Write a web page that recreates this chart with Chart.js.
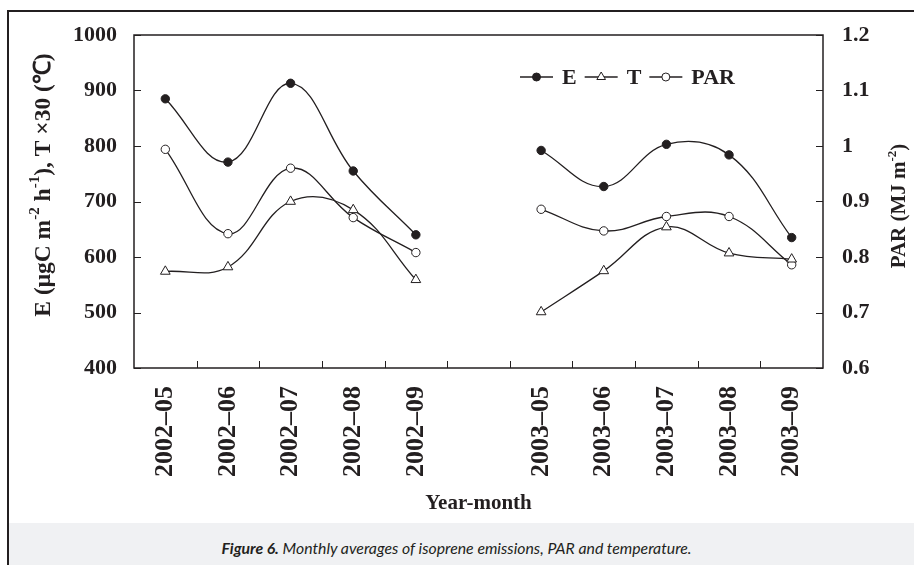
<!DOCTYPE html>
<html>
<head>
<meta charset="utf-8">
<title>Monthly averages of isoprene emissions</title>
<script src="https://cdn.jsdelivr.net/npm/chart.js@4.4.1/dist/chart.umd.min.js"></script>
<style>
  html, body { margin: 0; padding: 0; background: #fff; }
  #wrap { position: relative; width: 914px; height: 565px; overflow: hidden; }
  #chart { position: absolute; left: 0; top: 0; }
  #caption {
    position: absolute; left: 9px; top: 523px; width: 905px; height: 38px; padding-top: 4px;
    background: #f0f1f3; color: #231f20; text-align: center; line-height: 42px;
    font-family: Lato, "Open Sans", sans-serif; font-style: italic; font-size: 15.8px;
  }
  #caption span { position: relative; left: -5px; }
  #frame {
    position: absolute; left: 7px; top: 10px; width: 920px; height: 570px;
    border-left: 2px solid #231f20; border-top: 2px solid #231f20; pointer-events: none;
  }
</style>
</head>
<body>
<div id="wrap">
  <canvas id="chart" width="914" height="523"></canvas>
  <div id="caption"><span><b>Figure 6.</b> Monthly averages of isoprene emissions, PAR and temperature.</span></div>
  <div id="frame"></div>
</div>
<script>
// months on the x axis, blank slot separates the two seasons
const months = ['2002\u201305', '2002\u201306', '2002\u201307', '2002\u201308', '2002\u201309', '',
                '2003\u201305', '2003\u201306', '2003\u201307', '2003\u201308', '2003\u201309'];

// isoprene emission E (ugC m-2 h-1)
const emission = [885, 771, 913, 755, 640, null, 792, 727, 803, 784, 635];
// temperature scaled by 30
const tempX30 = [574, 582, 700, 685, 559, null, 501, 575, 654, 607, 596];
// PAR (MJ m-2), right axis
const par = [0.994, 0.842, 0.960, 0.871, 0.808, null, 0.886, 0.847, 0.873, 0.873, 0.786];

const leftTicks = [400, 500, 600, 700, 800, 900, 1000];
const rightTicks = [0.6, 0.7, 0.8, 0.9, 1.0, 1.1, 1.2];
const rightLabels = ['0.6', '0.7', '0.8', '0.9', '1', '1.1', '1.2'];

const ink = '#231f20';
const serif = '"Liberation Serif", "Times New Roman", serif';

// plain text with superscript pieces, centred on the origin
function drawRich(ctx, parts, size) {
  const base = `bold ${size}px ${serif}`;
  const small = `bold ${Math.round(size * 0.62)}px ${serif}`;
  let total = 0;
  parts.forEach(p => { ctx.font = p.sup ? small : base; total += ctx.measureText(p.text).width; });
  let x = -total / 2;
  parts.forEach(p => {
    ctx.font = p.sup ? small : base;
    ctx.fillText(p.text, x, p.sup ? -size * 0.36 : 0);
    x += ctx.measureText(p.text).width;
  });
}

const decorations = {
  id: 'decorations',
  beforeDatasetsDraw(chart) {
    const { ctx, chartArea: a, scales } = chart;
    ctx.save();
    ctx.strokeStyle = ink;
    ctx.lineWidth = 1.5;
    ctx.strokeRect(a.left, a.top, a.right - a.left, a.bottom - a.top);

    // inward tick marks
    ctx.lineWidth = 1;
    ctx.beginPath();
    scales.y.ticks.forEach(t => {
      const y = Math.round(scales.y.getPixelForValue(t.value)) + 0.5;
      ctx.moveTo(a.left, y); ctx.lineTo(a.left + 7, y);
    });
    scales.y1.ticks.forEach(t => {
      const y = Math.round(scales.y1.getPixelForValue(t.value)) + 0.5;
      ctx.moveTo(a.right, y); ctx.lineTo(a.right - 7, y);
    });
    const x = scales.x;
    const half = (x.getPixelForValue(1) - x.getPixelForValue(0)) / 2;
    for (let i = 1; i < months.length; i++) {
      const px = Math.round(x.getPixelForValue(i) - half) + 0.5;
      ctx.moveTo(px, a.bottom); ctx.lineTo(px, a.bottom - 7);
    }
    ctx.stroke();
    ctx.restore();
  },
  afterDraw(chart) {
    const { ctx } = chart;
    ctx.save();
    ctx.fillStyle = ink;
    ctx.textBaseline = 'middle';
    ctx.textAlign = 'left';

    // left axis title
    ctx.save();
    ctx.translate(44, 185);
    ctx.rotate(-Math.PI / 2);
    drawRich(ctx, [
      { text: 'E (\u03bcgC m' }, { text: '-2', sup: true }, { text: ' h' }, { text: '-1', sup: true },
      { text: '), T \u00d730 (\u2103)' }
    ], 23.5);
    ctx.restore();

    // right axis title
    ctx.save();
    ctx.translate(900, 206);
    ctx.rotate(-Math.PI / 2);
    drawRich(ctx, [{ text: 'PAR (MJ m' }, { text: '-2', sup: true }, { text: ')' }], 21);
    ctx.restore();

    // legend: line through marker, then label
    let lx = 520;
    const ly = 77;
    ctx.font = `bold 22px ${serif}`;
    chart.data.datasets.forEach(ds => {
      ctx.strokeStyle = ink;
      ctx.lineWidth = 1.3;
      ctx.beginPath();
      ctx.moveTo(lx, ly); ctx.lineTo(lx + 33, ly);
      ctx.stroke();
      ctx.fillStyle = ds.pointBackgroundColor;
      ctx.lineWidth = 1;
      Chart.helpers.drawPoint(ctx, {
        pointStyle: ds.pointStyle, rotation: 0,
        radius: ds.pointStyle === 'triangle' ? 5 : 4, borderWidth: 1
      }, lx + 16.5, ly);
      ctx.fillStyle = ink;
      ctx.fillText(ds.label, lx + 42, ly + 1);
      lx += 42 + ctx.measureText(ds.label).width + 8;
    });
    ctx.restore();
  }
};

function series(label, data, axis, style, fill, radius) {
  return {
    label, data, yAxisID: axis,
    borderColor: ink, borderWidth: 1.3, tension: 0.4, spanGaps: false, fill: false,
    pointStyle: style, pointRadius: radius, pointBorderWidth: 1,
    pointBackgroundColor: fill, pointBorderColor: ink
  };
}

const tickFont = { family: serif, size: 22, weight: 'bold' };

new Chart(document.getElementById('chart'), {
  type: 'line',
  data: {
    labels: months,
    datasets: [
      series('E', emission, 'y', 'circle', ink, 4.2),
      series('T', tempX30, 'y', 'triangle', '#fff', 5.6),
      series('PAR', par, 'y1', 'circle', '#fff', 4.2)
    ]
  },
  options: {
    responsive: false,
    animation: false,
    devicePixelRatio: 1,
    layout: { padding: { top: 35, left: 0, right: 0, bottom: 0 } },
    plugins: { legend: { display: false }, tooltip: { enabled: false } },
    scales: {
      x: {
        type: 'category', offset: true,
        grid: { display: false, drawTicks: false }, border: { display: false },
        ticks: { autoSkip: false, minRotation: 90, maxRotation: 90, padding: 18, color: ink,
                 font: { family: serif, size: 26, weight: 'bold' } },
        title: { display: true, text: 'Year-month', color: ink,
                 font: { family: serif, size: 21, weight: 'bold' }, padding: { top: 0, bottom: 7 } },
        afterFit(s) { s.height = 155; }
      },
      y: {
        position: 'left', min: 400, max: 1000,
        afterBuildTicks(s) { s.ticks = leftTicks.map(v => ({ value: v })); },
        grid: { display: false, drawTicks: false }, border: { display: false },
        ticks: { padding: 17, color: ink, font: tickFont, callback: v => String(v) },
        afterFit(s) { s.width = 134; }
      },
      y1: {
        position: 'right', min: 0.6, max: 1.2,
        afterBuildTicks(s) { s.ticks = rightTicks.map(v => ({ value: v })); },
        grid: { display: false, drawTicks: false }, border: { display: false },
        ticks: { padding: 19, color: ink, font: tickFont, callback: (v, i) => rightLabels[i] },
        afterFit(s) { s.width = 91; }
      }
    }
  },
  plugins: [decorations]
});
</script>
</body>
</html>
